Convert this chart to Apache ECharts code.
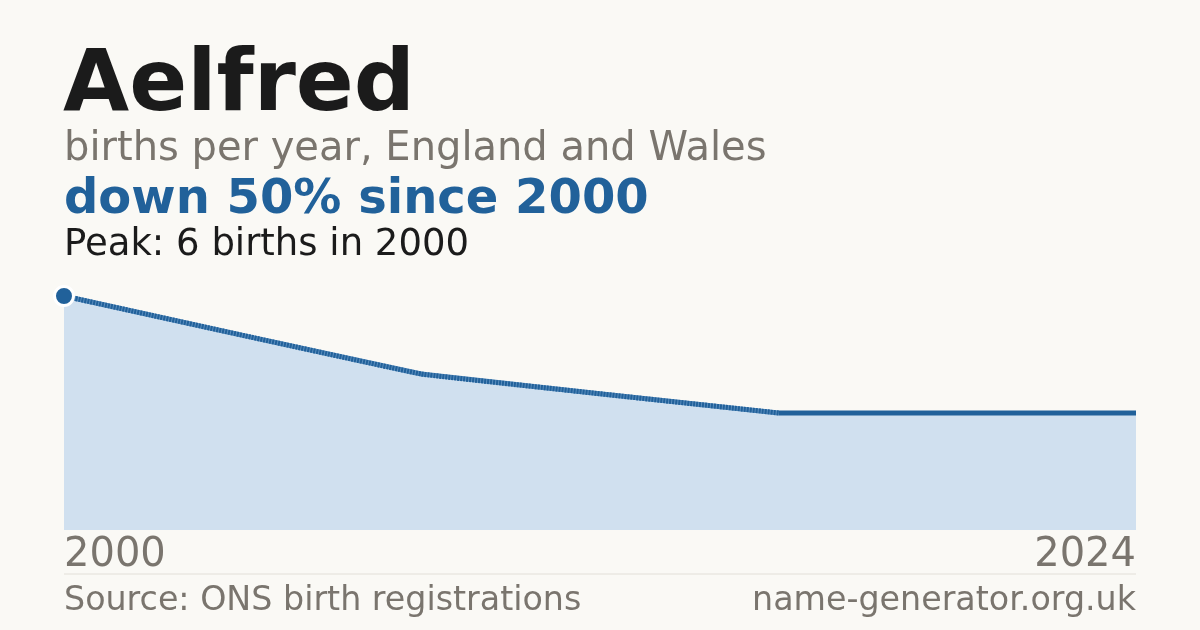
<!DOCTYPE html>
<html>
<head>
<meta charset="utf-8">
<script src="https://cdn.jsdelivr.net/npm/echarts@6/dist/echarts.min.js"></script>
<style>
html,body{margin:0;padding:0;background:#faf9f5;}
#c{width:1200px;height:630px;}
</style>
</head>
<body>
<div id="c"></div>
<script>
// Data
const nameTitle = "Aelfred";
const years = [2000, 2008, 2016, 2017, 2018, 2019, 2020, 2021, 2022, 2023, 2024];
const births = [6, 4, 3, 3, 3, 3, 3, 3, 3, 3, 3];
const dashedUntil = 2016; // years up to here joined by a dotted line
const tickLabels = [2000, 2024];

const BG = '#faf9f5', BLUE = '#21619a', GRAY = '#7a756e', INK = '#1b1b1b', FILL = '#d0e0ef';
const FONT = 'DejaVu Sans';

const allData = years.map((y, i) => [y, births[i]]);
const dashedData = allData.filter(d => d[0] <= dashedUntil);
const solidData = allData.filter(d => d[0] >= dashedUntil);
let peakIdx = 0;
births.forEach((b, i) => { if (b > births[peakIdx]) peakIdx = i; });

const chart = echarts.init(document.getElementById('c'), null, {renderer: 'canvas'});
const ts = (size, color, weight) => ({fontFamily: FONT, fontSize: size, color: color, fontWeight: weight || 'normal', lineHeight: size});
chart.setOption({
  backgroundColor: BG,
  animation: false,
  title: [
    {text: nameTitle, left: 58, top: 40, textStyle: ts(85.5, INK, 'bold')},
    {text: 'births per year, England and Wales', left: 59, top: 125, textStyle: ts(40, GRAY)},
    {text: 'down 50% since 2000', left: 59, top: 172, textStyle: ts(48, BLUE, 'bold')},
    {text: 'Peak: ' + births[peakIdx] + ' births in ' + years[peakIdx], left: 59, top: 222, textStyle: ts(37, INK)},
    {text: 'Source: ONS birth registrations', left: 59, top: 580, textStyle: ts(33.3, GRAY)},
    {text: 'name-generator.org.uk', right: 59, top: 580, textStyle: ts(33.3, GRAY)}
  ],
  grid: {left: 64, right: 64, top: 296, bottom: 100},
  xAxis: {
    type: 'value', min: tickLabels[0], max: tickLabels[tickLabels.length - 1], interval: 24,
    axisLine: {show: false}, axisTick: {show: false}, splitLine: {show: false},
    axisLabel: {
      show: true, margin: 6, fontFamily: FONT, fontSize: 40, lineHeight: 40, color: GRAY,
      alignMinLabel: 'left', alignMaxLabel: 'right',
      formatter: v => tickLabels.includes(v) ? String(v) : ''
    }
  },
  yAxis: {type: 'value', min: 0, max: births[peakIdx], show: false, splitLine: {show: false}},
  graphic: [
    {type: 'line', shape: {x1: 64, y1: 574, x2: 1136, y2: 574}, style: {stroke: '#e2dfd8', lineWidth: 1}}
  ],
  series: [
    {
      type: 'line', data: allData, smooth: 0.04, symbol: 'none',
      lineStyle: {width: 0, opacity: 0},
      areaStyle: {color: FILL, opacity: 1}, z: 1, silent: true
    },
    {
      type: 'line', data: dashedData, smooth: 0.04, symbol: 'none',
      lineStyle: {color: '#5a8dbd', width: 5}, z: 2, silent: true
    },
    {
      type: 'line', data: dashedData, smooth: 0.04, symbol: 'none',
      lineStyle: {color: BLUE, width: 5, type: [2, 1]}, z: 3
    },
    {
      type: 'line', data: solidData, symbol: 'none',
      lineStyle: {color: BLUE, width: 5}, z: 3
    },
    {
      type: 'scatter', data: [allData[peakIdx]], symbol: 'circle', symbolSize: 19,
      itemStyle: {color: BLUE, opacity: 1, borderColor: '#ffffff', borderWidth: 3}, z: 5
    }
  ]
});
</script>
</body>
</html>
